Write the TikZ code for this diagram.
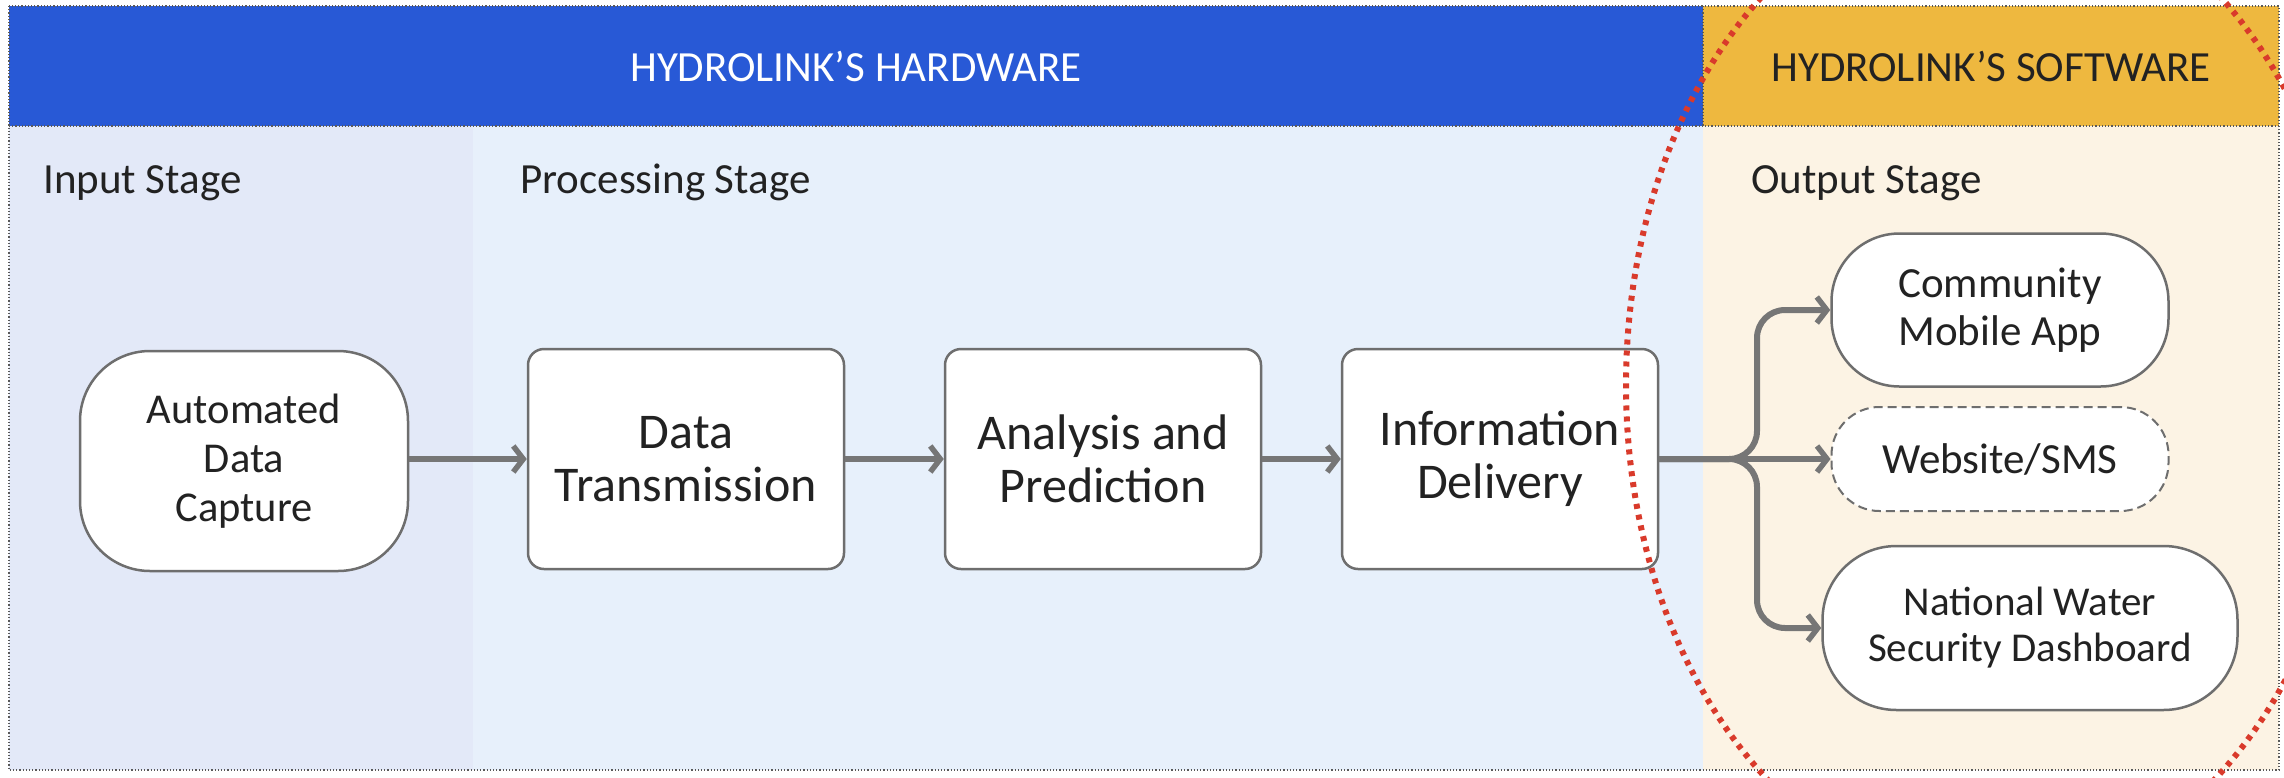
\documentclass[tikz,border=0pt]{standalone}
\usepackage{fontspec}
\setmainfont{Carlito}
\usetikzlibrary{arrows.meta}
\definecolor{bannerblue}{HTML}{2859D6}
\definecolor{banneryellow}{HTML}{EEB83F}
\definecolor{inbg}{HTML}{E3E9F8}
\definecolor{procbg}{HTML}{E7F0FB}
\definecolor{outbg}{HTML}{FCF3E4}
\definecolor{redring}{HTML}{D93A2B}
\definecolor{conngray}{HTML}{767676}
\definecolor{boxgray}{HTML}{6E6E6E}
\definecolor{darktext}{HTML}{222222}
\tikzset{
  frame/.style={draw=black!65, line width=1.2pt, dotted},
  box/.style={draw=boxgray, line width=2.5pt, fill=white, align=center, inner sep=0pt, text=darktext},
  procbox/.style={box, minimum width=316pt, minimum height=220pt, rounded corners=16pt, font=\fontsize{50}{53}\selectfont},
  capbox/.style={box, minimum width=328pt, minimum height=220pt, rounded corners=70pt, font=\fontsize{42.5}{49}\selectfont},
  outbox/.style={box, rounded corners=68pt, font=\fontsize{43}{48}\selectfont},
  stagelabel/.style={anchor=base west, inner sep=0pt, text=darktext, font=\fontsize{43}{50}\selectfont},
  bannertext/.style={inner sep=0pt, font=\fontsize{43}{50}\selectfont},
  conn/.style={draw=conngray, line width=6pt, -{Straight Barb[length=10pt,width=26pt,line width=5.5pt]}},
  reddot/.style={draw=redring, line width=6pt, dash pattern=on 5pt off 6pt}
}
\begin{document}
\begin{tikzpicture}[x=1pt,y=-1pt]
\useasboundingbox (0,0) rectangle (2284,777);
\fill[white] (0,0) rectangle (2284,777);
% backgrounds
\fill[inbg] (9,126) rectangle (473,770);
\fill[procbg] (473,126) rectangle (1703,770);
\fill[outbg] (1703,126) rectangle (2279,770);
\fill[bannerblue] (9,6) rectangle (1703,126);
\fill[banneryellow] (1703,6) rectangle (2279,126);
\draw[frame] (9,6) rectangle (2279,770);
\draw[frame] (9,126) -- (2279,126);
\draw[frame] (1703,6) -- (1703,126);
% banner texts
\node[bannertext, text=white] (hw) at (856,66) {HYDROLINK’S HARDWARE};
\node[bannertext, text=darktext] (sw) at (1991,66) {HYDROLINK’S SOFTWARE};
% stage labels
\node[stagelabel] (instage) at (43,193) {Input Stage};
\node[stagelabel] (procstage) at (520,193) {Processing Stage};
\node[stagelabel] (outstage) at (1751,193) {Output Stage};
% main nodes
\node[capbox] (cap) at (244,461) {Automated\\Data\\Capture};
\node[procbox] (dt) at (686,459) {Data\\Transmission};
\node[procbox] (ap) at (1103,459) {Analysis and\\Prediction};
\node[procbox] (info) at (1500,459) {Information\\Delivery};
% output nodes
\node[outbox, minimum width=337pt, minimum height=153pt] (comm) at (2000,310) {Community\\Mobile App};
\node[outbox, minimum width=337pt, minimum height=104pt, rounded corners=48pt, dashed, dash pattern=on 9pt off 5pt, line width=2pt] (web) at (2000,459) {Website/SMS};
\node[outbox, minimum width=415pt, minimum height=164pt, rounded corners=74pt, font=\fontsize{41}{46}\selectfont] (nat) at (2030,628) {National Water\\Security Dashboard};
% connectors
\coordinate (br) at (1757,459);
\draw[conn] (cap.east |- dt.west) -- (dt);
\draw[conn] (dt) -- (ap);
\draw[conn] (ap) -- (info);
\draw[conn, rounded corners=28pt] (info.east) -- (br) |- (comm.west);
\draw[conn, rounded corners=28pt] (info.east) -- (br) |- (nat.west);
\draw[conn] (info.east) -- (web.west);
% red dotted ring
\begin{scope}
\clip (0,0) rectangle (2284,777);
\draw[reddot] (1991,385) ellipse [x radius=365pt, y radius=499pt];
\end{scope}
\end{tikzpicture}
\end{document}
